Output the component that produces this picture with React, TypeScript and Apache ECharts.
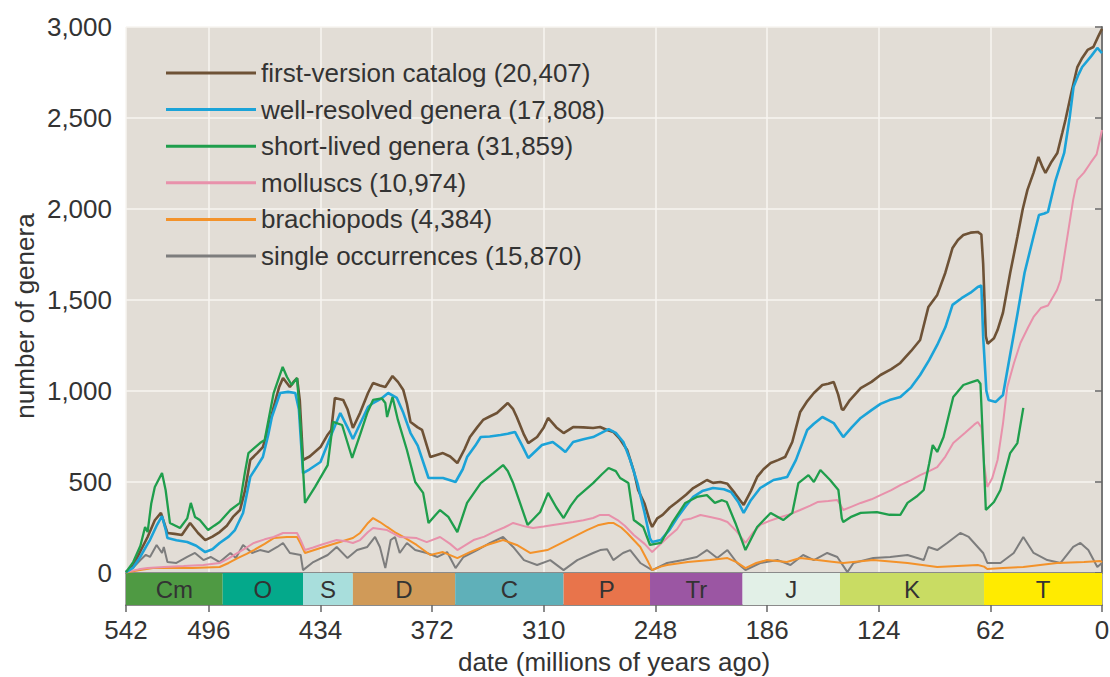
import React, { useEffect, useRef } from "react";
import * as echarts from "echarts";

const FONT = "Liberation Sans, Arial, Helvetica, sans-serif";

// ---- axis ticks ----
const ageTicks = [542, 496, 434, 372, 310, 248, 186, 124, 62, 0];
const genusMax = 3000;
const genusStep = 500;

// ---- geological periods ----
const periodNames = ["Cm", "O", "S", "D", "C", "P", "Tr", "J", "K", "T"];
const periodStarts = [542, 488.3, 443.7, 416, 359.2, 299, 251, 199.6, 145.5, 65.5];
const periodEnds = [488.3, 443.7, 416, 359.2, 299, 251, 199.6, 145.5, 65.5, 0];
const periodColors = ["#4f9a43", "#04a98b", "#a8dedc", "#d09a58", "#5fb0b9", "#e8744b", "#9b56a3", "#e2f0e7", "#c9dc63", "#ffeb00"];

// ---- series names ----
const seriesNames = [
  "first-version catalog (20,407)",
  "well-resolved genera (17,808)",
  "short-lived genera (31,859)",
  "molluscs (10,974)",
  "brachiopods (4,384)",
  "single occurrences (15,870)",
];
const seriesColors = ["#6e5236", "#1ba3d8", "#1f9e4c", "#e891ab", "#f3922a", "#7d7d7d"];
const seriesWidths = [2.6, 2.6, 2.3, 2, 2, 2];

// ---- data: [age (Ma), number of genera] ----
const firstVersion: [number, number][] = [
  [542, 5], [538, 40], [534, 120], [530, 198], [526, 290], [522.6, 330], [520, 250], [519, 220], [515, 215], [511, 209],
  [506.4, 275], [502, 220], [498, 181], [494, 200], [490, 225], [486, 260], [482.6, 308], [478.7, 346], [476, 450], [473, 621],
  [469, 660], [466, 692], [463, 790], [460, 912], [457, 1020], [454.8, 1071], [451, 1022], [449, 1050], [447, 1071], [445.5, 950],
  [443.7, 621], [440, 640], [434, 692], [430, 760], [428, 786], [426, 962], [421.4, 951], [419, 900], [416, 797], [412, 880],
  [407.6, 989], [404.8, 1044], [401, 1030], [398, 1022], [394, 1082], [391, 1050], [388, 1005], [386, 930], [384, 830], [380, 800],
  [377.6, 786], [373, 637], [369, 650], [366, 659], [362, 640], [358, 604], [354, 680], [351, 747], [347, 800], [343.7, 841],
  [340, 860], [336, 879], [330, 934], [327, 900], [325, 857], [321, 760], [318.6, 714], [313.7, 747], [310, 800], [307.6, 852],
  [303, 800], [299, 769], [293.7, 802], [288, 800], [282.6, 797], [278.7, 802], [274.8, 786], [271.4, 775], [268, 740], [263.7, 676],
  [260, 560], [257.6, 456], [254, 380], [251, 280], [249.8, 253], [247, 300], [244, 319], [240, 360], [236, 390], [231, 430],
  [227, 467], [223, 490], [219.4, 511], [216, 495], [212, 500], [208, 490], [204, 440], [201, 400], [199, 374], [195, 450],
  [191.5, 528], [188, 570], [184, 604], [180, 620], [176, 637], [172, 720], [167.6, 885], [164, 940], [160, 989], [155.3, 1033],
  [152, 1040], [149, 1050], [146.5, 980], [144.5, 900], [143.7, 896], [140, 950], [134, 1016], [128, 1050], [123, 1088], [117, 1120],
  [112, 1154], [106, 1220], [101, 1280], [96.4, 1462], [91.5, 1528], [87, 1650], [83, 1786], [80, 1830], [77, 1857], [73, 1870],
  [69, 1874], [67, 1860], [66, 1700], [64.5, 1300], [63.5, 1260], [60, 1290], [58, 1335], [55, 1430], [51, 1648], [47, 1846],
  [44, 2000], [41.4, 2105], [38, 2200], [35.3, 2286], [33, 2230], [31.4, 2198], [28, 2260], [24.8, 2308], [22, 2420], [20.3, 2489],
  [17, 2640], [13.7, 2780], [11, 2830], [8, 2874], [4.8, 2890], [2, 2950], [0, 2990],
];

const wellResolved: [number, number][] = [
  [542, 5], [538, 30], [534, 90], [530, 160], [528.7, 181], [525, 260], [522, 313], [520, 240], [519, 192], [514, 180],
  [508, 170], [503, 150], [498, 115], [494, 130], [490, 165], [485, 200], [481.5, 236], [477, 330], [473, 528], [469, 590],
  [466, 637], [463, 760], [461, 857], [456.4, 989], [452, 995], [448, 989], [446, 900], [443.7, 549], [440, 570], [434, 610],
  [428, 760], [423, 879], [419, 800], [416, 736], [412, 820], [407.6, 912], [404.8, 934], [400, 960], [396.4, 989], [391.6, 962],
  [388, 880], [384, 769], [380, 700], [374, 522], [366, 522], [362, 510], [359, 500], [355, 570], [352.6, 637], [348, 700],
  [345, 747], [340, 750], [334, 758], [330, 765], [326, 775], [322, 700], [318.6, 632], [311, 703], [305, 720], [301, 690],
  [298, 665], [293.7, 720], [288, 735], [282.6, 747], [278, 770], [274, 791], [270, 770], [265.8, 720], [262, 620], [258, 494],
  [254, 330], [251, 190], [249.8, 170], [245, 181], [240, 240], [236, 302], [231, 370], [227, 418], [222, 450], [216, 467],
  [210, 460], [206, 445], [202, 390], [199, 330], [195, 400], [189.8, 467], [186, 490], [182.4, 511], [178, 520], [174.8, 528],
  [170, 620], [163.7, 786], [160, 820], [155.3, 857], [152, 840], [149, 824], [146, 780], [143.7, 747], [139, 800], [134, 852],
  [128, 895], [123, 929], [118, 950], [112, 967], [106, 1020], [101, 1088], [96, 1170], [91.5, 1253], [87, 1350], [83, 1473],
  [78, 1510], [73, 1540], [69, 1572], [67, 1580], [66, 1300], [64.2, 1000], [63, 951], [59, 940], [55, 978], [51, 1200],
  [47, 1420], [43, 1650], [38, 1850], [35, 1967], [32, 1975], [30, 1984], [26, 2150], [21, 2308], [18, 2500], [15.8, 2671],
  [13, 2740], [11, 2780], [6, 2840], [2.6, 2885], [0, 2857],
];

const shortLived: [number, number][] = [
  [542, 5], [538, 60], [534, 150], [531.4, 253], [530, 225], [528, 380], [526, 473], [522, 549], [520, 456], [517.6, 275],
  [512, 247], [508, 300], [506, 385], [503.7, 308], [501, 291], [496.4, 236], [493, 260], [490, 280], [484, 346], [478.7, 385],
  [476, 550], [474, 659], [467.6, 714], [465, 731], [460, 989], [455, 1132], [452.6, 1077], [450, 1033], [447, 1071], [445, 800],
  [442.6, 385], [437, 473], [430, 593], [427, 830], [422, 813], [416.4, 632], [412, 760], [408, 880], [404.8, 951], [400, 960],
  [398, 934], [397, 857], [394, 967], [391, 841], [386, 676], [381.4, 500], [377, 440], [374, 275], [370, 320], [367.6, 346],
  [363, 308], [358, 225], [352.6, 385], [345, 494], [338, 549], [332.6, 593], [330, 560], [327, 494], [323, 380], [319, 264],
  [312, 335], [307.6, 440], [303, 360], [299, 302], [295, 370], [291.4, 418], [282.6, 494], [278, 540], [274, 577], [270, 560],
  [267.6, 522], [263, 494], [260, 291], [254.8, 253], [251, 154], [245, 165], [238.7, 275], [231.4, 385], [225, 418], [219.4, 428],
  [215, 385], [211, 400], [208.4, 390], [203.6, 275], [198, 126], [191.5, 253], [184, 330], [177, 291], [172, 330], [168.6, 494],
  [163, 538], [160, 500], [156.4, 566], [151, 511], [146.4, 456], [144.5, 300], [143.7, 280], [139, 310], [134, 330], [125, 335],
  [118, 320], [112, 319], [108, 385], [103, 420], [99, 456], [96, 600], [94, 703], [91.5, 665], [88, 747], [82.6, 967],
  [77, 1033], [72, 1050], [69, 1060], [67.5, 1040], [66, 700], [64.5, 346], [60, 390], [56.4, 456], [51, 659], [47, 714], [43.7, 907],
];

const molluscs: [number, number][] = [
  [542, 5], [535, 20], [530, 27], [521, 33], [510, 38], [499, 44], [490, 55], [485, 80], [480, 110], [475, 140],
  [471, 165], [465, 185], [460, 198], [454.8, 220], [447, 220], [445, 180], [442.6, 126], [438, 140], [434, 154], [425, 181],
  [420, 175], [416, 165], [412, 181], [407.6, 225], [404.8, 247], [397, 236], [390, 198], [380.6, 192], [375, 170], [367.6, 198],
  [362, 160], [358, 126], [349, 181], [343, 200], [338, 225], [332, 250], [327, 275], [320, 255], [316, 247], [310, 255],
  [304.8, 264], [293.7, 280], [288, 290], [282.6, 302], [278.7, 319], [274, 319], [269, 291], [265, 260], [260, 209], [254, 160],
  [249.8, 115], [245, 160], [241, 198], [236, 240], [232.6, 291], [228, 300], [223, 319], [217.6, 308], [212, 295], [208, 280],
  [203, 230], [198, 165], [194, 220], [189.8, 264], [185, 285], [180, 302], [174, 320], [167.6, 346], [162, 370], [158, 390],
  [152, 395], [147, 401], [145, 370], [143.7, 346], [139, 365], [134, 385], [128, 405], [123, 428], [117, 455], [112, 483],
  [106, 510], [101, 538], [96, 560], [91.5, 582], [87, 640], [82.6, 714], [76, 770], [71, 815], [69, 830], [67, 800],
  [65.5, 600], [63.7, 473], [61, 520], [58, 621], [55, 820], [52.6, 1022], [49, 1150], [45.3, 1264], [41, 1350], [38, 1407],
  [34, 1456], [30, 1470], [27, 1520], [25, 1555], [23, 1610], [20, 1800], [16, 2050], [13.7, 2160], [10, 2200], [6.4, 2253],
  [3, 2300], [0, 2434],
];

const brachiopods: [number, number][] = [
  [542, 3], [535, 15], [527, 27], [505, 27], [490, 33], [485, 55], [480, 82], [475, 105], [471, 126], [465, 160],
  [460, 192], [452.6, 198], [447, 198], [445, 160], [442.6, 110], [434, 137], [425, 165], [416, 192], [412, 220], [407.6, 275],
  [404.8, 302], [401, 280], [397, 253], [392, 220], [388, 198], [380.6, 154], [373, 99], [366, 115], [358, 82], [351, 115],
  [341.6, 154], [332.6, 181], [325, 154], [317.6, 110], [308, 126], [297, 181], [286, 236], [280, 262], [274, 275], [271.4, 275],
  [267, 250], [263.7, 220], [256.4, 143], [252, 60], [249.8, 16], [245, 35], [241.5, 44], [230, 60], [217.6, 71], [208, 82],
  [203, 60], [198, 27], [192, 55], [186, 71], [175, 60], [167.6, 82], [158, 71], [150, 62], [143.7, 55], [127, 71],
  [108, 55], [91.5, 33], [69, 44], [65.5, 35], [63.7, 22], [55, 28], [43.7, 33], [25, 55], [10, 60], [1, 66], [0, 60],
];

const singleOccurrences: [number, number][] = [
  [542, 5], [538, 30], [534, 71], [531, 100], [528.7, 88], [525, 154], [522, 110], [521, 143], [519, 60], [514, 55],
  [508, 88], [503.7, 110], [499, 71], [495, 88], [490, 60], [484, 110], [481, 82], [477, 154], [472, 110], [467.6, 126],
  [463, 115], [458, 143], [454.8, 165], [451, 110], [445, 99], [443.7, 16], [438, 60], [430, 99], [425, 143], [419, 82],
  [413.7, 126], [408, 143], [403.7, 198], [401, 143], [398, 27], [395, 181], [392.6, 198], [390, 110], [386, 165], [381.4, 126],
  [375, 110], [369, 88], [363.7, 115], [359, 27], [354.6, 88], [347, 126], [339.8, 165], [332.6, 198], [327, 143], [321, 71],
  [313.7, 44], [306.4, 71], [299, 16], [291.4, 71], [282.6, 110], [278.7, 126], [274.8, 130], [271.4, 71], [266, 110], [262, 126],
  [256.4, 55], [249.8, 16], [241.5, 55], [232.6, 71], [225, 88], [219.4, 126], [213.7, 82], [208, 126], [202.6, 55], [198, 16],
  [189.8, 55], [180, 71], [173, 44], [166, 99], [160, 71], [152.6, 110], [147, 88], [141.4, 5], [138, 55], [127, 82],
  [117.6, 88], [108, 99], [99, 71], [96.4, 143], [91.5, 126], [86, 165], [78.7, 220], [74, 198], [69, 143], [66, 110],
  [63.7, 55], [56.4, 55], [49, 110], [43.7, 198], [38, 110], [30.4, 71], [23, 55], [16, 143], [12, 165], [7.6, 126],
  [2.6, 33], [0, 55],
];

const seriesData = [firstVersion, wellResolved, shortLived, molluscs, brachiopods, singleOccurrences];
const drawOrder = [5, 4, 3, 0, 1, 2];

export default function App() {
  const ref = useRef<HTMLDivElement>(null);
  useEffect(() => {
    if (!ref.current) return;
    const chart = echarts.init(ref.current, undefined, { renderer: "svg" });
    const plotLeft = 126;
    const plotRight = 8;
    const lineSeries = drawOrder.map((i) => ({
      type: "line",
      name: seriesNames[i],
      xAxisIndex: 0,
      yAxisIndex: 0,
      data: seriesData[i],
      symbol: "none",
      showSymbol: false,
      smooth: false,
      lineStyle: { color: seriesColors[i], width: seriesWidths[i] },
      itemStyle: { color: seriesColors[i] },
      z: 3,
    }));
    const periodData = periodNames.map((_, i) => [periodStarts[i], periodEnds[i], i]);
    chart.setOption({
      animation: false,
      textStyle: { fontFamily: FONT },
      grid: [
        { left: plotLeft, right: plotRight, top: 27, height: 546, show: true, backgroundColor: "#e2ddd6", borderWidth: 0, outerBoundsMode: "none" },
        { left: plotLeft, right: plotRight, top: 573, height: 32, show: true, backgroundColor: "transparent", borderWidth: 1.5, borderColor: "#8a8a8a", outerBoundsMode: "none" },
      ],
      xAxis: [
        {
          gridIndex: 0, type: "value", min: 0, max: 542, inverse: true, interval: 62,
          axisLine: { show: true, onZero: false, lineStyle: { color: "#8a8a8a", width: 2 } },
          axisTick: { show: false, customValues: ageTicks },
          axisLabel: { show: false },
          splitLine: { show: true, lineStyle: { color: "#f7f5f1", width: 1.5 } },
        },
        {
          gridIndex: 1, type: "value", min: 0, max: 542, inverse: true, interval: 62,
          axisLine: { show: true, onZero: false, lineStyle: { color: "#8a8a8a", width: 2 } },
          axisTick: { show: true, length: 7, inside: false, customValues: ageTicks, lineStyle: { color: "#666", width: 1.5 } },
          axisLabel: { show: true, customValues: ageTicks, fontSize: 26, color: "#333", margin: 12, fontFamily: FONT },
          splitLine: { show: false },
          name: "date (millions of years ago)",
          nameLocation: "middle",
          nameGap: 44,
          nameTextStyle: { fontSize: 26, color: "#333", fontFamily: FONT },
        },
      ],
      yAxis: [
        {
          gridIndex: 0, type: "value", min: 0, max: genusMax, interval: genusStep,
          axisLine: { show: true, lineStyle: { color: "#777", width: 2 } },
          axisTick: { show: true, length: 7, inside: false, lineStyle: { color: "#666", width: 1.5 } },
          axisLabel: {
            fontSize: 26, color: "#333", margin: 14, fontFamily: FONT,
            formatter: (v: number) => v.toLocaleString("en-US"),
          },
          splitLine: { show: true, lineStyle: { color: "#f7f5f1", width: 1.5 } },
        },
        {
          gridIndex: 1, type: "value", min: 0, max: 1,
          axisLine: { show: false }, axisTick: { show: false }, axisLabel: { show: false }, splitLine: { show: false },
        },
      ],
      legend: {
        orient: "vertical",
        left: 166,
        top: 60,
        padding: 0,
        icon: "rect",
        itemWidth: 90,
        itemHeight: 3,
        itemGap: 10.6,
        selectedMode: false,
        data: seriesNames,
        textStyle: { fontSize: 26, color: "#333", lineHeight: 26, fontFamily: FONT },
      },
      graphic: [
        {
          type: "text",
          x: 25,
          y: 316,
          rotation: Math.PI / 2,
          style: { text: "number of genera", fontSize: 26, fill: "#333", fontFamily: FONT, align: "center", verticalAlign: "middle" },
        },
      ],
      series: [
        ...lineSeries,
        {
          type: "custom",
          xAxisIndex: 1,
          yAxisIndex: 1,
          data: periodData,
          clip: false,
          renderItem: (_params: any, api: any) => {
            const idx = api.value(2);
            const p0 = api.coord([api.value(0), 1]);
            const p1 = api.coord([api.value(1), 0]);
            const x = Math.min(p0[0], p1[0]);
            const y = Math.min(p0[1], p1[1]);
            const w = Math.abs(p1[0] - p0[0]);
            const h = Math.abs(p1[1] - p0[1]);
            return {
              type: "rect",
              shape: { x, y, width: w, height: h },
              style: { fill: periodColors[idx] },
              textContent: {
                style: { text: periodNames[idx], fill: "#333", fontSize: 24, fontFamily: FONT },
              },
              textConfig: { position: "inside" },
            };
          },
          z: 1,
        },
      ],
    } as any);
    return () => chart.dispose();
  }, []);
  return (
    <div
      ref={ref}
      style={{ position: "fixed", left: 0, top: 0, width: 1110, height: 677, background: "#fff" }}
    />
  );
}
